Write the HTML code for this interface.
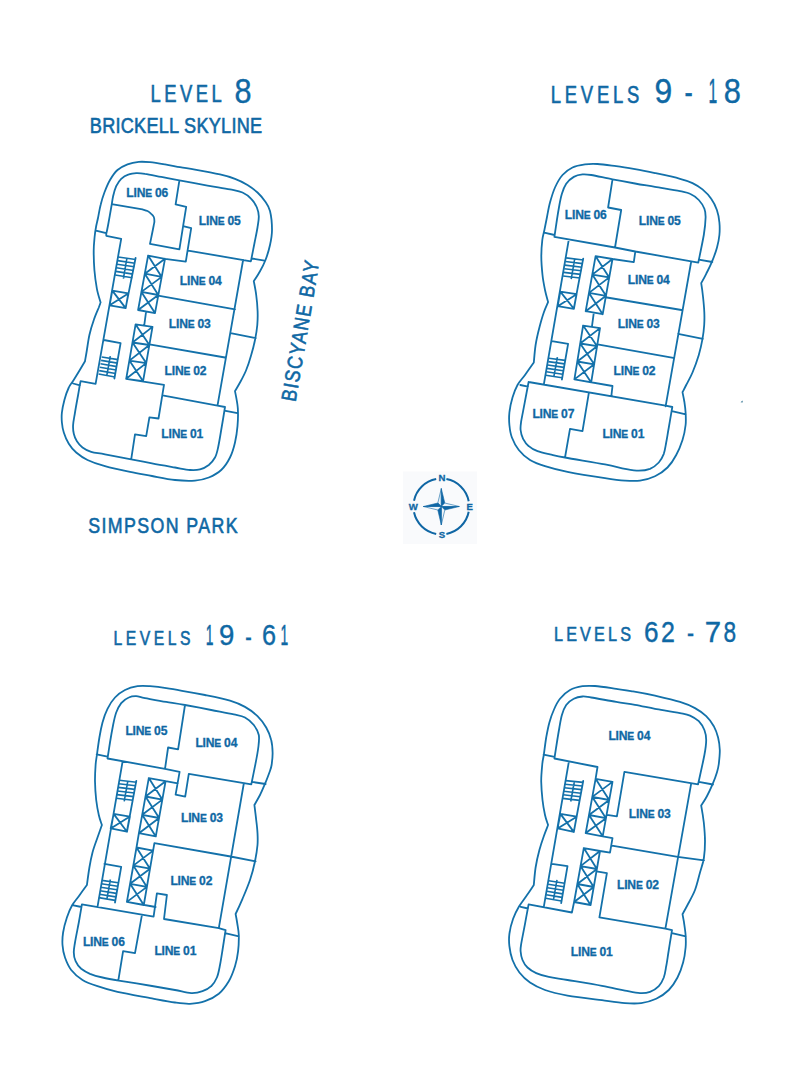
<!DOCTYPE html>
<html><head><meta charset="utf-8"><title>Floor plans</title>
<style>
html,body{margin:0;padding:0;background:#fff;}
body{width:800px;height:1069px;overflow:hidden;position:relative;font-family:"Liberation Sans",sans-serif;}
svg{position:absolute;left:0;top:0;display:block;}
.w{fill:none;stroke:#1371aa;stroke-width:1.8;stroke-linejoin:round;stroke-linecap:round;}
.t{fill:none;stroke:#1371aa;stroke-width:1.6;stroke-linecap:butt;}
text{font-family:"Liberation Sans",sans-serif;fill:#0f68a4;}
.l{font-weight:bold;font-size:12.1px;letter-spacing:-0.2px;stroke:#0f68a4;stroke-width:0.3px;}
</style></head><body>
<svg width="800" height="1069" viewBox="0 0 800 1069">
<path class="w" d="M100.6 302.5 C100 300.2 97.9 294.2 96.9 288.8 C95.9 283.3 94.9 276.3 94.4 270 C93.9 263.7 93.7 256.5 93.7 251 C93.7 245.5 94.2 241.2 94.6 237 C95 232.8 95.6 229.2 96.2 226 C96.8 222.8 97.4 221 98.1 217.5 C98.8 214 99.5 209.2 100.6 205 C101.6 200.8 102.8 196.7 104.4 192.5 C106 188.3 107.8 183.8 110 180 C112.2 176.2 114.6 172.6 117.5 170 C120.4 167.4 124 165.8 127.5 164.4 C131 163.1 135 162.3 138.8 161.9 C142.5 161.5 145.6 161.8 150 162.2 C154.4 162.7 160 163.6 165 164.4 C170 165.2 175 166.3 180 167.2 C185 168.1 188.3 168.4 195 169.6 C201.7 170.8 213.3 172.9 220 174.4 C226.7 175.9 230.4 177 235 178.8 C239.6 180.5 243.8 182.7 247.5 185 C251.2 187.3 254.6 189.8 257.5 192.5 C260.4 195.2 262.9 198.2 265 201.2 C267.1 204.3 268.8 206.2 270 211 C271.2 215.8 272 224.3 272 230 C272 235.7 271.1 240 270 245 C268.9 250 267.2 255.6 265.5 260 C263.8 264.4 262 267.7 260 271.2 C258 274.8 254.8 279.6 253.8 281.2 M253.8 281.2 C254.2 283.5 255.6 290 256.2 295 C256.9 300 257.4 306 257.6 311 C257.8 316 257.7 320.2 257.3 325 C256.9 329.8 256 335 255 340 C254 345 252.7 350 251.2 355 C249.8 360 248.1 365.4 246.2 370 C244.4 374.6 241.9 379 240 382.5 C238.1 386 235.8 389.8 235 391.2 M235 391.2 C235.5 394 237.4 402.2 237.8 408 C238.2 413.8 238 420.5 237.5 426.2 C237 432 236.2 437.3 235 442.5 C233.8 447.7 232.3 452.9 230 457.5 C227.7 462.1 224.8 466.7 221.2 470 C217.7 473.3 213.1 475.7 208.8 477.5 C204.4 479.3 200.6 480.2 195 480.6 C189.4 481 182.2 480.8 175 480 C167.8 479.2 159.5 477.4 152 476 C144.5 474.6 137.8 473.5 130 471.9 C122.2 470.3 112.1 468.2 105 466.2 C97.9 464.3 92.3 462.3 87.5 460 C82.7 457.7 79.4 455.2 76.2 452.5 C73.1 449.8 70.8 447.1 68.8 443.8 C66.7 440.4 64.9 436 63.8 432.5 C62.6 429 62.2 425.8 61.9 422.5 C61.6 419.2 61.5 416.2 61.9 412.5 C62.3 408.8 63.3 404.2 64.4 400 C65.5 395.8 67.2 390.9 68.8 387.5 C70.3 384.1 71.3 383.9 74 379.5 C76.7 375.1 83.2 364.3 85 361.2 M85 361.2 C85.3 359.4 86.2 354.4 86.9 350 C87.6 345.6 88.3 340 89.4 335 C90.5 330 92.2 324.6 93.8 320 C95.3 315.4 97.6 310.4 98.8 307.5 C99.9 304.6 100.3 303.3 100.6 302.5 M106.2 234 C106.6 232.5 107.3 229.4 108.1 225 C108.9 220.6 110.4 212.3 111.2 207.5 C112.1 202.7 112.3 199.8 113.1 196.2 C113.9 192.7 114.9 189.2 116.2 186.2 C117.6 183.3 119.2 180.7 121.2 178.8 C123.3 176.8 126.2 175.3 128.8 174.4 C131.2 173.5 133.5 173.2 136.2 173.1 C139 173 140.8 173.1 145 173.8 C149.2 174.4 155.5 175.8 161.2 176.9 C167 178 171.7 179 179.4 180.4 C187.1 181.8 199.1 184.1 207.5 185.6 C215.9 187.1 224.2 188.2 230 189.4 C235.8 190.6 239 190.9 242.5 192.5 C246 194.1 248.8 196.2 251.2 198.8 C253.7 201.2 255.6 204.6 256.9 207.5 C258.1 210.4 258.6 212.9 258.8 216.2 C258.9 219.6 258.2 223 257.5 227.5 C256.8 232 255.6 237.4 254.5 243 C253.4 248.6 251.6 257.8 251 260.8 M96 230.6 L106.2 233.1 M251.9 258.5 L264.6 260.6 M230.6 333.1 L255.8 338.1 M224.4 410.6 L237.4 413.1 M73.1 383.5 L80 385.3 M106.2 233.1 L106.3 235.8 L121.2 238.8 L95.6 383.8 L80.6 381.2 L79.6 386.2 M79.6 386.2 C79.3 387.7 78.9 390.6 78.1 395 C77.3 399.4 75.8 407.5 75 412.5 C74.2 417.5 73.3 421.5 73.1 425 C72.9 428.5 73.1 431 73.8 433.8 C74.4 436.5 75.4 439 76.9 441.2 C78.4 443.5 80.1 445.7 82.5 447.5 C84.9 449.3 87.5 450.8 91.2 451.9 C95 453 98.3 453.1 105 454.4 C111.7 455.6 123.4 457.9 131.2 459.4 C139.1 460.9 144.7 462 152 463.4 C159.3 464.8 168.7 466.4 175 467.5 C181.3 468.6 185.8 469.7 190 470 C194.2 470.3 196.9 470.2 200 469.4 C203.1 468.6 206.2 467 208.8 465 C211.2 463 213.4 460.4 215 457.5 C216.6 454.6 217.1 452.1 218.1 447.5 C219.1 442.9 220.1 436.8 221.2 430 C222.4 423.2 224.4 410.8 225 407 M179.4 180.4 L175.6 204.4 L186.2 206.9 L183.1 226.2 L191.2 228.1 L185.8 261.6 L165 258.8 M183.1 226.2 L179.4 249.4 L150 243.8 M150 243.8 C150.6 240.8 152.9 229.8 153.6 226 C154.3 222.2 154.4 222.8 154.4 221.2 C154.4 219.8 154.3 218.2 153.8 217 C153.3 215.8 152.3 214.8 151.2 213.8 C150.2 212.8 149 211.7 147.5 211 C146 210.3 143.3 209.7 142.5 209.4 M142.5 209.4 L113.1 204.4 M188.1 250.6 L250.8 261.3 M243.1 260 L217.5 405.6 M158.1 295.6 L235 309.4 M149.4 344.4 L225 357.5 M163.8 395.6 L217.5 405.6 L225 407 M126.2 378.8 L164 384.8 L158.5 418.5 L149.4 417.3 L146.2 436.2 L135 434.4 L131.2 459.4 M135.6 258 L125.6 308.1 M112.3 290.6 L128.3 293.4 L125.7 308.1 L109.6 305.3Z M112.3 290.6 L125.7 308.1 M128.3 293.4 L109.6 305.3 M148.1 255.6 L165 258.8 L155 313.1 L138.1 310Z M148.1 255.6 L161.7 276.9 M165 258.8 L144.8 273.7 M144.8 273.7 L161.7 276.9 M144.8 273.7 L158.3 295 M161.7 276.9 L141.4 291.9 M141.4 291.9 L158.3 295 M141.4 291.9 L155 313.1 M158.3 295 L138.1 310 M146.1 311.5 L144.2 325.6 M135.6 324.4 L152.5 326.9 L143.1 381.2 L126.2 378.8Z M135.6 324.4 L149.4 345 M152.5 326.9 L132.5 342.5 M132.5 342.5 L149.4 345 M132.5 342.5 L146.2 363.1 M149.4 345 L129.4 360.6 M129.4 360.6 L146.2 363.1 M129.4 360.6 L143.1 381.2 M146.2 363.1 L126.2 378.8 M103.8 340 L120.6 343.1 L114.4 378.5 M548.1 302 C547.6 300 545.9 294.5 545 290 C544.1 285.5 543.1 280.7 542.5 275 C541.9 269.3 541.3 261.8 541.3 256 C541.3 250.2 541.8 244.3 542.3 240 C542.8 235.7 543.6 233.8 544.4 230 C545.2 226.2 546 222.1 546.9 217.5 C547.8 212.9 548.6 207.5 550 202.5 C551.4 197.5 552.9 192.1 555 187.5 C557.1 182.9 559.6 178.3 562.5 175 C565.4 171.7 568.8 169.3 572.5 167.5 C576.2 165.7 580.8 165 585 164.4 C589.2 163.8 592.3 163.7 597.5 164 C602.7 164.3 610 165.4 616.2 166.2 C622.5 167.1 628.5 168.1 635 169.2 C641.5 170.3 647.5 171.5 655 173.1 C662.5 174.7 673.8 177.1 680 178.8 C686.2 180.4 688.8 181.3 692.5 183.1 C696.2 184.9 699.4 186.8 702.5 189.4 C705.6 192 708.9 195.3 711.2 198.8 C713.6 202.2 715.5 206 716.9 210 C718.3 214 719 218.3 719.4 222.5 C719.8 226.7 719.8 230.8 719.4 235 C719 239.2 718.2 243 717 247.5 C715.8 252 713.7 257.5 711.9 261.9 C710.1 266.3 708 270.2 706.2 273.8 C704.5 277.3 702.1 281.5 701.2 283.1 M701.2 283.1 C701.6 285.5 702.6 292.7 703.1 297.5 C703.6 302.3 704.1 307.4 704.3 312 C704.5 316.6 704.5 320.5 704.2 325 C703.9 329.5 703.4 333.8 702.5 338.8 C701.6 343.8 700.4 349.4 698.8 355 C697.1 360.6 694.6 367.5 692.5 372.5 C690.4 377.5 687.9 381.7 686.2 385 C684.6 388.3 683.1 391 682.5 392.2 M682.5 392.2 C682.8 393.8 683.9 398.6 684.4 402 C684.9 405.4 685.4 408.7 685.6 412.5 C685.8 416.3 686.1 420.4 685.6 425 C685.1 429.6 684.1 435 682.5 440 C680.9 445 678.8 450.4 676.2 455 C673.8 459.6 671 464 667.5 467.5 C664 471 659.6 474.1 655 476.2 C650.4 478.4 645 479.9 640 480.6 C635 481.3 630.8 481 625 480.6 C619.2 480.2 614.6 479.6 605 478.1 C595.4 476.7 577.5 473.9 567.5 471.9 C557.5 469.9 551.2 468.2 545 466.2 C538.8 464.3 534.4 462.7 530 460 C525.6 457.3 521.8 453.8 518.8 450 C515.7 446.2 513.5 441.7 511.9 437.5 C510.3 433.3 509.8 429.2 509.4 425 C509 420.8 508.9 417.1 509.4 412.5 C509.9 407.9 511.1 402.1 512.5 397.5 C513.9 392.9 515.4 388.8 517.5 385 C519.6 381.2 522.3 378.8 525 375 C527.7 371.2 532.3 364.6 533.8 362.5 M533.8 362.5 C534.1 359.6 534.7 350.8 535.6 345 C536.5 339.2 538 332.9 539.4 327.5 C540.8 322.1 542.3 316.8 543.8 312.5 C545.2 308.2 547.4 303.8 548.1 302 M554.4 236.9 C554.8 234.1 556.1 225.3 556.9 220 C557.7 214.7 558.6 209.4 559.4 205 C560.2 200.6 560.8 197.3 561.9 193.8 C563 190.2 564.3 186.6 566.2 183.8 C568.2 180.9 571 178.5 573.8 176.9 C576.5 175.3 579.6 174.7 582.5 174.4 C585.4 174.1 586.2 174.2 591.2 175 C596.2 175.8 605.2 178 612.5 179.4 C619.8 180.8 627.9 182.2 635 183.5 C642.1 184.8 647.5 185.6 655 186.9 C662.5 188.2 674.2 190.1 680 191.2 C685.8 192.4 686.9 192.3 690 193.8 C693.1 195.2 696.4 197.5 698.8 200 C701.1 202.5 703.3 205.8 704.4 208.8 C705.5 211.7 705.7 213.1 705.6 217.5 C705.5 221.9 705 227.5 703.8 235 C702.5 242.5 699.2 258 698.3 262.6 M544.2 232.6 L554.5 235 M698.8 259.6 L712.3 262 M678.1 333.8 L702.9 338.8 M671.9 411.2 L685.8 414.4 M520.3 385 L528 386.6 M554.4 236.9 L615 247.5 L635.3 251.5 L633.8 262.2 L612.5 259 M612.5 179.4 L608.1 207.5 L621.2 210 L615 247.5 M568.8 239.6 L543.8 384.6 M635.3 251.5 L698.3 262.6 M691.2 261.5 L665.6 406.4 M606.9 297.5 L681.5 310 M597.5 344.4 L673.3 357.8 M528.6 382 L665.6 405.6 L672.3 407 M574.4 379.4 L612.5 386 L611.3 396.3 M588.8 393.1 L582.5 431.2 L570 428.8 L565 457.5 M528.6 382 C528 385.2 526.2 394.7 525 401.2 C523.8 407.8 522 416.5 521.2 421.2 C520.5 426 520.3 427.1 520.6 430 C520.9 432.9 521.7 436 523.1 438.8 C524.5 441.5 526.4 444.2 528.8 446.2 C531.1 448.3 534 449.9 537.5 451.2 C541 452.6 545.4 453.4 550 454.4 C554.6 455.4 555.8 455.8 565 457.5 C574.2 459.2 595 462.5 605 464.4 C615 466.3 619.4 467.7 625 468.8 C630.6 469.8 634.6 470.6 638.8 470.6 C642.9 470.6 646.7 470.1 650 468.8 C653.3 467.4 656.5 465 658.8 462.5 C661 460 662.5 457.1 663.8 453.8 C665 450.4 665.4 446.9 666.2 442.5 C667.1 438.1 667.7 433.4 668.8 427.5 C669.8 421.6 671.7 410.4 672.3 407 M583.2 258.6 L573.8 308.6 M560.3 291.6 L576.6 294.2 L573.9 308.8 L557.7 306.2Z M560.3 291.6 L573.9 308.8 M576.6 294.2 L557.7 306.2 M595.6 256.2 L612.5 259 L602.7 314.2 L585.7 311.2Z M595.6 256.2 L609.2 277.4 M612.5 259 L592.3 274.6 M592.3 274.6 L609.2 277.4 M592.3 274.6 L606 295.8 M609.2 277.4 L589 292.9 M589 292.9 L606 295.8 M589 292.9 L602.7 314.2 M606 295.8 L585.7 311.2 M593.8 312.7 L591.9 326.8 M583.1 325.6 L600 328.1 L591.2 382.4 L574.4 379.4Z M583.1 325.6 L597.1 346.2 M600 328.1 L580.2 343.5 M580.2 343.5 L597.1 346.2 M580.2 343.5 L594.2 364.3 M597.1 346.2 L577.3 361.5 M577.3 361.5 L594.2 364.3 M577.3 361.5 L591.2 382.4 M594.2 364.3 L574.4 379.4 M551.9 341.2 L568.1 343.8 L561.9 379.5 M101.9 825 C101.4 823.3 99.7 819.2 98.8 815 C97.8 810.8 96.9 805.6 96.2 800 C95.6 794.4 95.1 787.1 95 781.2 C94.9 775.4 95.3 769.4 95.6 765 C95.9 760.6 96.3 759.6 96.9 755 C97.5 750.4 98.5 742.9 99.4 737.5 C100.3 732.1 101.2 727.3 102.5 722.5 C103.8 717.7 105.4 712.9 107.5 708.8 C109.6 704.6 112.1 700.6 115 697.5 C117.9 694.4 121.2 691.9 125 690 C128.8 688.1 133.3 686.9 137.5 686.2 C141.7 685.6 145.2 685.9 150 686.2 C154.8 686.6 160.9 687.3 166.2 688.1 C171.6 688.9 175.5 689.6 182 690.8 C188.5 691.9 197 693.4 205 695 C213 696.6 223.3 698.6 230 700.6 C236.7 702.6 240.4 704.3 245 706.9 C249.6 709.5 254 712.8 257.5 716.2 C261 719.7 264 723.5 266.2 727.5 C268.5 731.5 270.2 735.8 271.2 740 C272.3 744.2 272.5 748.3 272.6 752.5 C272.7 756.7 272.1 761.7 271.6 765 C271.1 768.3 270.5 769.4 269.4 772.5 C268.3 775.6 266.6 780 265 783.8 C263.4 787.5 261.8 791.5 260 795 C258.2 798.5 255.3 803.3 254.4 805 M254.4 805 C254.7 807.5 255.7 815.3 256.2 820 C256.8 824.7 257.3 828.8 257.5 833 C257.7 837.2 257.9 840.3 257.5 845 C257.1 849.7 256.2 855.4 255 861.2 C253.8 867.1 252.1 873.8 250 880 C247.9 886.2 244.9 893.1 242.5 898.8 C240.1 904.4 236.8 911.5 235.6 914 M235.6 914 C235.9 915.5 236.7 919.5 237.2 923 C237.7 926.5 238.6 930.3 238.8 935 C238.9 939.7 238.7 946 238.1 951.2 C237.5 956.5 236.6 961.2 235 966.2 C233.4 971.2 231.5 976.7 228.8 981.2 C226 985.8 222.7 990.4 218.8 993.8 C214.8 997.1 209.8 999.6 205 1001.2 C200.2 1002.9 195 1003.5 190 1003.8 C185 1004 181.3 1003.4 175 1002.5 C168.7 1001.6 161.6 1000.2 152 998.4 C142.4 996.6 126.6 993.9 117.5 991.9 C108.4 989.9 103.3 988.2 97.5 986.2 C91.7 984.3 86.9 982.7 82.5 980 C78.1 977.3 74.2 973.8 71.2 970 C68.3 966.2 66.5 961.7 65 957.5 C63.5 953.3 62.8 949.2 62.5 945 C62.2 940.8 62.4 937.1 63.1 932.5 C63.8 927.9 65.4 922 66.9 917.5 C68.4 913 70 909 72 905.5 C74 902 76.3 899.7 78.8 896.2 C81.2 892.8 85.5 886.9 86.9 885 M86.9 885 C87.3 882.1 88.5 872.9 89.4 867.5 C90.3 862.1 91.2 857.5 92.5 852.5 C93.8 847.5 95.9 842.1 97.5 837.5 C99.1 832.9 101.2 827.1 101.9 825 M107.5 758.5 C107.9 755.8 109.1 748.1 110 742.5 C110.9 736.9 112.1 730 113.1 725 C114.1 720 114.9 716.1 116.2 712.5 C117.6 708.9 119.2 705.6 121.2 703.1 C123.3 700.6 126.2 698.6 128.8 697.5 C131.2 696.4 133.5 696.1 136.2 696.2 C139 696.4 140 697.2 145 698.1 C150 699 159.6 700.8 166.2 701.9 C172.9 703 177.5 703.6 185 705 C192.5 706.4 203.1 708.4 211.2 710 C219.4 711.6 228.1 713.1 233.8 714.4 C239.4 715.6 241.7 715.7 245 717.5 C248.3 719.3 251.5 722.1 253.8 725 C256 727.9 258 731.2 258.8 735 C259.5 738.8 258.9 742.3 258.3 747.5 C257.7 752.7 256.2 760.1 255 766.2 C253.8 772.4 251.9 781.4 251.3 784.4 M96.7 754.4 L107.5 756.6 M251.9 781.9 L265.6 784 M230.6 856.5 L255.6 861.3 M225 933.1 L238.9 936.3 M72.3 905.2 L81.5 907 M107.5 758.5 L165 768.8 L179.6 771.9 L175.6 794.6 L185.2 796.6 L188.8 773.8 L251.3 784.4 M185 705 L178.1 749.4 L168.1 747.5 L165 768.8 M165.6 781.2 L177.8 783.4 M122.6 761.4 L97.5 906.9 M243.8 783.5 L218.8 928.1 M154.4 843.1 L230.6 856.5 M154.4 843.1 L153.1 850.6 M81.9 904.4 L153.6 916.6 L156.9 893.4 L166.9 895 L164 919 L218.8 928.1 L225.6 930.2 M126.9 901.9 L155.6 907 M141.9 915.2 L135 953.1 L123.1 951.2 L118.3 980.6 M81.9 904.4 C81.4 907.4 79.9 916.1 78.8 922.5 C77.6 928.9 75.8 937.5 75 942.5 C74.2 947.5 73.7 949.4 73.8 952.5 C73.8 955.6 74.3 958.5 75.6 961.2 C76.8 964 78.8 966.7 81.2 968.8 C83.7 970.8 86.5 972.3 90 973.8 C93.5 975.2 97.7 976.4 102.5 977.5 C107.3 978.6 110.5 979.2 118.8 980.6 C127 982 142.6 984.4 152 986 C161.4 987.6 168.5 988.8 175 990 C181.5 991.2 186.7 992.9 191.2 993.1 C195.8 993.3 199.2 992.4 202.5 991.2 C205.8 990.1 208.8 988.5 211.2 986.2 C213.7 984 215.4 981 216.9 977.5 C218.4 974 219.1 969.6 220 965 C220.9 960.4 221.6 955.8 222.5 950 C223.4 944.2 225.1 933.5 225.6 930.2 M136.3 780.8 L126.9 831.5 M113.6 813.9 L129.9 816.6 L127 831.7 L110.7 828.4Z M113.6 813.9 L127 831.7 M129.9 816.6 L110.7 828.4 M148.8 778.1 L165.6 781.2 L155.8 836.4 L138.9 833.2Z M148.8 778.1 L162.3 799.6 M165.6 781.2 L145.5 796.5 M145.5 796.5 L162.3 799.6 M145.5 796.5 L159.1 818 M162.3 799.6 L142.2 814.8 M142.2 814.8 L159.1 818 M142.2 814.8 L155.8 836.4 M159.1 818 L138.9 833.2 M138.9 833.2 L136.5 847.5 M136.5 847.5 L153.1 850.6 L143.8 905 L126.9 901.9Z M136.5 847.5 L150 868.7 M153.1 850.6 L133.3 865.6 M133.3 865.6 L150 868.7 M133.3 865.6 L146.9 886.9 M150 868.7 L130.1 883.8 M130.1 883.8 L146.9 886.9 M130.1 883.8 L143.8 905 M146.9 886.9 L126.9 901.9 M104.4 863.8 L121.2 866.9 L115 902.5 M548.1 825 C547.6 823.3 545.9 819.2 545 815 C544.1 810.8 543.1 805.6 542.5 800 C541.9 794.4 541.3 787.2 541.2 781.2 C541.2 775.2 541.9 768.4 542.3 764 C542.7 759.6 543.1 759.4 543.8 755 C544.4 750.6 545.3 742.9 546.2 737.5 C547.2 732.1 548.1 727.1 549.4 722.5 C550.6 717.9 552 714 553.8 710 C555.5 706 557.3 702.1 560 698.8 C562.7 695.4 566.2 692.1 570 690 C573.8 687.9 578.3 686.9 582.5 686.2 C586.7 685.6 589.4 685.6 595 686 C600.6 686.4 609.9 687.9 616.2 688.8 C622.6 689.6 626.5 690.3 633 691.4 C639.5 692.5 647.2 693.9 655 695.6 C662.8 697.4 673.3 699.8 680 701.9 C686.7 704 690.6 705.7 695 708.1 C699.4 710.5 703.1 713.2 706.2 716.2 C709.4 719.3 711.8 722.7 713.8 726.2 C715.7 729.8 717.1 733.5 718.1 737.5 C719.1 741.5 719.6 745.6 719.8 750 C719.9 754.4 719.2 760.2 718.8 764 C718.3 767.8 717.9 769.1 716.9 772.5 C715.9 775.9 714.2 780.4 712.5 784.4 C710.8 788.4 708.8 792.7 706.9 796.2 C705 799.8 702.2 804 701.2 805.6 M701.2 805.6 C701.7 808.4 703.1 816.6 703.8 822.5 C704.4 828.4 705 835.3 705 841.2 C705 847.2 704.7 852.8 703.9 858 C703.1 863.2 701.5 867.2 700 872.5 C698.5 877.8 697.1 884.6 695 890 C692.9 895.4 689.6 901 687.5 905 C685.4 909 683.3 912.7 682.5 914.2 M682.5 914.2 C682.7 915.4 683.2 917.8 683.8 921.2 C684.3 924.7 685.3 930.6 685.6 935 C685.9 939.4 686 942.9 685.6 947.5 C685.2 952.1 684.5 957.5 683.1 962.5 C681.8 967.5 679.9 972.9 677.5 977.5 C675.1 982.1 672.3 986.5 668.8 990 C665.2 993.5 660.8 996.6 656.2 998.8 C651.7 1000.9 646.5 1002.4 641.2 1003.1 C636 1003.8 631.5 1003.6 625 1003.1 C618.5 1002.6 611.6 1001.5 602 1000.2 C592.4 999 577 997.3 567.5 995.6 C558 993.9 551.2 992.2 545 990 C538.8 987.8 534.3 985.4 530 982.5 C525.7 979.6 522.3 976.2 519.4 972.5 C516.5 968.8 514.2 964.4 512.5 960 C510.8 955.6 509.9 950.6 509.4 946.2 C508.9 941.9 508.8 938.3 509.4 933.8 C510 929.2 511.5 923.3 513.1 918.8 C514.7 914.2 516.8 910.2 519 906.5 C521.2 902.8 523.8 899.8 526.2 896.2 C528.7 892.7 532.5 886.9 533.8 885 M533.8 885 C534.1 882.1 534.7 873.3 535.6 867.5 C536.5 861.7 538 855.2 539.4 850 C540.8 844.8 542.3 840.4 543.8 836.2 C545.2 832.1 547.4 826.9 548.1 825 M554.4 758.5 C554.8 755.8 556.1 747.7 556.9 742.5 C557.7 737.3 558.6 732.1 559.4 727.5 C560.2 722.9 560.8 718.8 561.9 715 C563 711.2 564.3 707.7 566.2 705 C568.2 702.3 571 700.2 573.8 698.8 C576.5 697.3 579.6 696.7 582.5 696.5 C585.4 696.3 585.6 696.6 591.2 697.5 C596.9 698.4 609 700.7 616.2 701.9 C623.5 703.1 628.5 703.7 635 704.8 C641.5 705.9 647.5 707.4 655 708.8 C662.5 710.1 674.2 712 680 713.1 C685.8 714.2 686.9 714.2 690 715.6 C693.1 717 696.4 718.9 698.8 721.2 C701.1 723.6 703.1 726.9 704.4 730 C705.6 733.1 706.2 735.8 706.2 740 C706.2 744.2 705.8 747.6 704.4 755 C703 762.4 699.1 779.5 698.1 784.4 M543.6 754.6 L554.5 756.9 M698.8 781.9 L713 784.5 M677.8 856.9 L704 860.3 M671.9 933.1 L685.8 936.3 M520.8 906.9 L528 908.5 M554.4 758.5 L597.5 767 L595.6 778.8 M606.9 814.8 L616.9 816.4 L624.4 771.9 L698.1 784.4 M691.2 783.3 L665.4 928.6 M568.9 761.4 L543.8 906.9 M602.7 836.3 L612.5 838.1 L610 852.6 L600 851 M611.9 845.6 L677.8 856.9 M596.4 871.3 L606.9 873.1 L599.4 917.3 L665.4 928.6 L672 930.2 M528.6 904.4 L571.9 912.5 L574.1 902 M528.6 904.4 C528 907.6 526.2 917.2 525 923.8 C523.8 930.3 522 939.2 521.2 943.8 C520.5 948.3 520.4 948.5 520.6 951.2 C520.8 954 521.4 957.3 522.5 960 C523.6 962.7 525.2 965.3 527.5 967.5 C529.8 969.7 532.7 971.5 536.2 973.1 C539.8 974.7 543.5 975.8 548.8 976.9 C554 978 558.6 978.5 567.5 980 C576.4 981.5 592.4 984.1 602 985.9 C611.6 987.7 618.7 989.4 625 990.6 C631.3 991.8 635.8 992.9 640 993.1 C644.2 993.3 646.9 993 650 991.9 C653.1 990.8 656.5 988.6 658.8 986.2 C661 983.9 662.5 980.8 663.8 977.5 C665 974.2 665.4 970.8 666.2 966.2 C667.1 961.7 667.8 956 668.8 950 C669.7 944 671.5 933.5 672 930.2 M583.2 781 L573.8 832 M560.4 813.9 L576.7 816.7 L573.8 831.9 L557.6 828.4Z M560.4 813.9 L573.8 831.9 M576.7 816.7 L557.6 828.4 M595.6 778.8 L612.5 781.9 L602.7 836.3 L585.7 833.1Z M595.6 778.8 L609.2 800 M612.5 781.9 L592.3 796.9 M592.3 796.9 L609.2 800 M592.3 796.9 L606 818.2 M609.2 800 L589 815 M589 815 L606 818.2 M589 815 L602.7 836.3 M606 818.2 L585.7 833.1 M583.8 848.1 L600 851 L590.6 905 L574.1 902Z M583.8 848.1 L596.9 869 M600 851 L580.5 866.1 M580.5 866.1 L596.9 869 M580.5 866.1 L593.7 887 M596.9 869 L577.3 884 M577.3 884 L593.7 887 M577.3 884 L590.6 905 M593.7 887 L574.1 902 M551.9 863.8 L567.5 866.2 L561.2 903.1"/>
<path class="t" d="M118.2 257 L135.6 259.5 M117.6 260.6 L134.9 263.2 M117 264.2 L134.3 266.8 M116.4 267.8 L133.6 270.5 M115.8 271.4 L133 274.1 M115.2 275 L132.3 277.8 M126.9 258.2 L123.4 278.6 M101.7 357 L118.1 359.6 M101.1 360.4 L117.5 363.1 M100.5 363.8 L116.9 366.6 M99.8 367.2 L116.2 370 M99.2 370.6 L115.6 373.5 M98.6 374 L115 377 M110.3 356.2 L106.8 375.5 M566.1 257.9 L583.3 260 M565.5 261.5 L582.6 263.6 M564.9 265.1 L582 267.2 M564.3 268.8 L581.3 270.8 M563.7 272.4 L580.7 274.4 M563.1 276 L580 278 M574.7 258.9 L571.2 279.2 M548.9 358.2 L565.1 360.4 M548.3 361.6 L564.5 363.9 M547.7 365 L563.9 367.4 M547 368.4 L563.2 370.8 M546.4 371.8 L562.6 374.3 M545.8 375.2 L562 377.8 M557.4 357.2 L553.9 376.5 M119.3 780.2 L136.4 782.2 M118.7 783.8 L135.7 785.8 M118.1 787.4 L135 789.4 M117.4 791 L134.4 793 M116.8 794.6 L133.7 796.6 M116.2 798.2 L133 800.2 M127.8 781.2 L124.2 801.4 M101.9 880.4 L118.2 882.8 M101.3 883.8 L117.6 886.3 M100.7 887.3 L117 889.8 M100 890.7 L116.3 893.4 M99.4 894.2 L115.7 896.9 M98.8 897.6 L115.1 900.4 M110.4 879.5 L106.9 899 M565.6 780.6 L583.1 782.4 M565 784.2 L582.4 786 M564.4 787.7 L581.7 789.6 M563.7 791.3 L581 793.2 M563.1 794.8 L580.3 796.8 M562.5 798.4 L579.6 800.4 M574.4 781.5 L570.7 801.5 M548.7 880.8 L564.5 883.2 M548.1 884.3 L563.9 886.8 M547.5 887.8 L563.3 890.3 M546.8 891.2 L562.6 893.9 M546.2 894.7 L562 897.4 M545.6 898.2 L561.4 901 M557 879.9 L553.5 899.6"/>
<path d="M740.6 402.2 L742.6 400.4 L742.6 402.4Z" fill="#2a6f8f"/>
<rect x="403" y="471.5" width="74" height="72.5" fill="#f9fafc"/>
<path d="M468.7 511.8 A27.9 27.9 0 0 1 446.4 533.9 M436.2 533.9 A27.9 27.9 0 0 1 414 512.3 M414 500.7 A27.9 27.9 0 0 1 436.2 479.1 M446.4 479.1 A27.9 27.9 0 0 1 468.7 501.2" fill="none" stroke="#0f66a4" stroke-width="2"/>
<path d="M441.3 488.5 L437.8 503 L441.3 506.5Z" fill="#eef4f9" stroke="#0f66a4" stroke-width="0.6" stroke-linejoin="round"/>
<path d="M441.3 488.5 L444.8 503 L441.3 506.5Z" fill="#0f66a4" stroke="#0f66a4" stroke-width="0.6" stroke-linejoin="round"/>
<path d="M459.3 506.5 L444.8 503 L441.3 506.5Z" fill="#eef4f9" stroke="#0f66a4" stroke-width="0.6" stroke-linejoin="round"/>
<path d="M459.3 506.5 L444.8 510 L441.3 506.5Z" fill="#0f66a4" stroke="#0f66a4" stroke-width="0.6" stroke-linejoin="round"/>
<path d="M441.3 525 L444.8 510 L441.3 506.5Z" fill="#eef4f9" stroke="#0f66a4" stroke-width="0.6" stroke-linejoin="round"/>
<path d="M441.3 525 L437.8 510 L441.3 506.5Z" fill="#0f66a4" stroke="#0f66a4" stroke-width="0.6" stroke-linejoin="round"/>
<path d="M423.3 506.5 L437.8 510 L441.3 506.5Z" fill="#eef4f9" stroke="#0f66a4" stroke-width="0.6" stroke-linejoin="round"/>
<path d="M423.3 506.5 L437.8 503 L441.3 506.5Z" fill="#0f66a4" stroke="#0f66a4" stroke-width="0.6" stroke-linejoin="round"/>
<text x="441.9" y="481" text-anchor="middle" font-size="9.6" font-weight="bold" fill="#0f66a4" stroke="#0f66a4" stroke-width="0.3">N</text>
<text x="441.9" y="538.4" text-anchor="middle" font-size="9.6" font-weight="bold" fill="#0f66a4" stroke="#0f66a4" stroke-width="0.3">S</text>
<text x="413.3" y="510.2" text-anchor="middle" font-size="9.6" font-weight="bold" fill="#0f66a4" stroke="#0f66a4" stroke-width="0.3">W</text>
<text x="469.6" y="510.2" text-anchor="middle" font-size="9.6" font-weight="bold" fill="#0f66a4" stroke="#0f66a4" stroke-width="0.3">E</text>
<text class="l" x="126.3" y="196.7">LIN<tspan font-size="10.3">E</tspan> 06</text>
<text class="l" x="198.8" y="225">LIN<tspan font-size="10.3">E</tspan> 05</text>
<text class="l" x="179.8" y="284.7">LIN<tspan font-size="10.3">E</tspan> 04</text>
<text class="l" x="168.8" y="328.2">LIN<tspan font-size="10.3">E</tspan> 03</text>
<text class="l" x="164.6" y="374.7">LIN<tspan font-size="10.3">E</tspan> 02</text>
<text class="l" x="161.3" y="438.2">LIN<tspan font-size="10.3">E</tspan> 01</text>
<text class="l" x="564.8" y="219.1">LIN<tspan font-size="10.3">E</tspan> 06</text>
<text class="l" x="638.8" y="225.3">LIN<tspan font-size="10.3">E</tspan> 05</text>
<text class="l" x="627.8" y="283.7">LIN<tspan font-size="10.3">E</tspan> 04</text>
<text class="l" x="617.8" y="327.7">LIN<tspan font-size="10.3">E</tspan> 03</text>
<text class="l" x="613.6" y="375.1">LIN<tspan font-size="10.3">E</tspan> 02</text>
<text class="l" x="532.4" y="417.9">LIN<tspan font-size="10.3">E</tspan> 07</text>
<text class="l" x="602.4" y="437.9">LIN<tspan font-size="10.3">E</tspan> 01</text>
<text class="l" x="125.4" y="734.5">LIN<tspan font-size="10.3">E</tspan> 05</text>
<text class="l" x="195.4" y="746.6">LIN<tspan font-size="10.3">E</tspan> 04</text>
<text class="l" x="181" y="821.7">LIN<tspan font-size="10.3">E</tspan> 03</text>
<text class="l" x="170.4" y="884.7">LIN<tspan font-size="10.3">E</tspan> 02</text>
<text class="l" x="82.9" y="946">LIN<tspan font-size="10.3">E</tspan> 06</text>
<text class="l" x="154.4" y="955.3">LIN<tspan font-size="10.3">E</tspan> 01</text>
<text class="l" x="608.4" y="740.1">LIN<tspan font-size="10.3">E</tspan> 04</text>
<text class="l" x="628.8" y="817.5">LIN<tspan font-size="10.3">E</tspan> 03</text>
<text class="l" x="617" y="888.5">LIN<tspan font-size="10.3">E</tspan> 02</text>
<text class="l" x="570.8" y="955.5">LIN<tspan font-size="10.3">E</tspan> 01</text>
<text transform="translate(150.5 102) scale(0.800 1)" x="0.00" y="0" font-size="23" letter-spacing="4.35" stroke="#0f68a4" stroke-width="0.6">LEVEL</text>
<text transform="translate(234.4 102.9) scale(0.870 1)" x="0.00" y="0" font-size="35.2" letter-spacing="0.00" stroke="#0f68a4" stroke-width="0.4">8</text>
<text transform="translate(89.8 133) scale(0.840 1)" x="0.00" y="0" font-size="21.6" letter-spacing="0.29" stroke="#0f68a4" stroke-width="0.6">BRICKELL SKYLINE</text>
<text transform="translate(550.8 102.6) scale(0.800 1)" x="0.00" y="0" font-size="23" letter-spacing="4.72" stroke="#0f68a4" stroke-width="0.6">LEVELS</text>
<text transform="translate(654.4 102.7) scale(0.906 1)" x="0.00" y="0" font-size="35.2" letter-spacing="0.00" stroke="#0f68a4" stroke-width="0.4">9</text>
<text transform="translate(684.5 104.4) scale(0.704 1)" x="0.00" y="0" font-size="35.2" letter-spacing="0.00" stroke="#0f68a4" stroke-width="0.4">-</text>
<text transform="translate(708.5 102.7) scale(0.445 1)" x="0.00" y="0" font-size="35.2" letter-spacing="0.00" stroke="#0f68a4" stroke-width="0.5">1</text>
<text transform="translate(723.8 102.7) scale(0.875 1)" x="0.00" y="0" font-size="35.2" letter-spacing="0.00" stroke="#0f68a4" stroke-width="0.4">8</text>
<text transform="translate(113.5 645) scale(0.800 1)" x="0.00" y="0" font-size="19.6" letter-spacing="4.42" stroke="#0f68a4" stroke-width="0.6">LEVELS</text>
<text transform="translate(205.8 645.4) scale(0.462 1)" x="0.00" y="0" font-size="30" letter-spacing="0.00" stroke="#0f68a4" stroke-width="0.5">1</text>
<text transform="translate(218.9 645.4) scale(0.919 1)" x="0.00" y="0" font-size="30" letter-spacing="0.00" stroke="#0f68a4" stroke-width="0.4">9</text>
<text transform="translate(245.2 646.9) scale(0.647 1)" x="0.00" y="0" font-size="30" letter-spacing="0.00" stroke="#0f68a4" stroke-width="0.4">-</text>
<text transform="translate(262.1 645.4) scale(0.841 1)" x="0.00" y="0" font-size="30" letter-spacing="0.00" stroke="#0f68a4" stroke-width="0.4">6</text>
<text transform="translate(280.4 645.4) scale(0.462 1)" x="0.00" y="0" font-size="30" letter-spacing="0.00" stroke="#0f68a4" stroke-width="0.5">1</text>
<text transform="translate(554 640.7) scale(0.800 1)" x="0.00" y="0" font-size="20.2" letter-spacing="3.97" stroke="#0f68a4" stroke-width="0.6">LEVELS</text>
<text transform="translate(644 642.2) scale(0.877 1)" x="0.00" y="0" font-size="29.8" letter-spacing="0.00" stroke="#0f68a4" stroke-width="0.4">6</text>
<text transform="translate(660.9 642.2) scale(0.840 1)" x="0.00" y="0" font-size="29.8" letter-spacing="0.00" stroke="#0f68a4" stroke-width="0.4">2</text>
<text transform="translate(687.1 643.3) scale(0.711 1)" x="0.00" y="0" font-size="29.8" letter-spacing="0.00" stroke="#0f68a4" stroke-width="0.4">-</text>
<text transform="translate(704.7 642.2) scale(0.986 1)" x="0.00" y="0" font-size="29.8" letter-spacing="0.00" stroke="#0f68a4" stroke-width="0.4">7</text>
<text transform="translate(723.4 642.2) scale(0.762 1)" x="0.00" y="0" font-size="29.8" letter-spacing="0.00" stroke="#0f68a4" stroke-width="0.4">8</text>
<text transform="translate(88.3 533.2) scale(0.840 1)" x="0.00" y="0" font-size="21.2" letter-spacing="1.64" stroke="#0f68a4" stroke-width="0.6">SIMPSON PARK</text>
<text transform="translate(295.6 402.2) rotate(-80.4) scale(0.840 1)" x="0.00" y="0" font-size="21" letter-spacing="1.69" stroke="#0f68a4" stroke-width="0.6">BISCYANE BAY</text>
</svg>
</body></html>
